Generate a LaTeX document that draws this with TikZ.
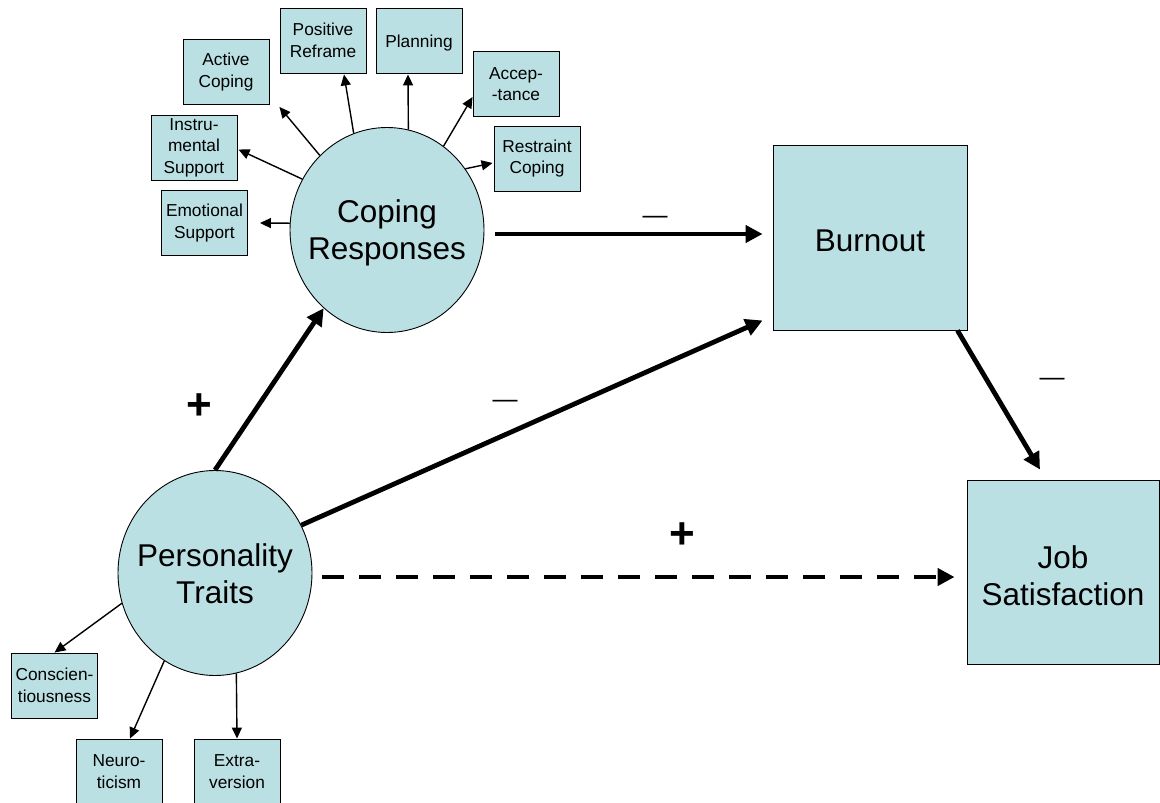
\documentclass[tikz,border=0pt]{standalone}
\usepackage{fontspec}
\setmainfont{Liberation Sans}
\usetikzlibrary{arrows.meta,shapes.geometric,calc}
\definecolor{boxfill}{RGB}{187,224,227}
\begin{document}
\begin{tikzpicture}[x=1pt,y=-1pt,
  smallbox/.style={draw=black,line width=0.9pt,fill=boxfill,minimum width=86pt,minimum height=65pt,inner sep=0pt,align=center,font=\fontsize{17.3}{21.5}\selectfont,execute at begin node={\rule{0pt}{18pt}}},
  bigbox/.style={draw=black,line width=0.9pt,fill=boxfill,inner sep=0pt},
  bigell/.style={draw=black,line width=0.9pt,fill=boxfill,ellipse,minimum width=194pt,minimum height=205pt,inner sep=0pt},
  bigtxt/.style={align=center,inner sep=0pt,font=\fontsize{31.5}{37}\selectfont},
  thinarr/.style={line width=1.4pt,-{Triangle[length=11pt,width=10pt]}},
  thickarr/.style={line width=4.8pt,-{Triangle[length=17pt,width=17pt]}},
  sign/.style={inner sep=0pt,font=\fontsize{44}{44}\bfseries\selectfont},
  minus/.style={inner sep=0pt,font=\fontsize{25}{25}\selectfont}]
\useasboundingbox (0,0) rectangle (1160,803);

% main constructs
\node[bigell] (cr) at (387,230) {};
\node[bigtxt] (crt) at (387,233) {Coping\\Responses};
\node[bigell] (pt) at (215,573) {};
\node[bigtxt] (ptt) at (215,573.7) {Personality\\Traits};
\node[bigbox,minimum width=194pt,minimum height=185pt] (bo) at (870,237.5) {};
\node[bigtxt] (bot) at (870,241) {Burnout};
\node[bigbox,minimum width=192pt,minimum height=184pt] (js) at (1063,572) {};
\node[bigtxt] (jst) at (1063,576) {Job\\Satisfaction};

% coping responses
\node[smallbox] (es) at (204.5,223) {Emotional\\Support};
\node[smallbox] (is) at (194,147.5) {Instru-\\mental\\Support};
\node[smallbox] (ac) at (226,72) {Active\\Coping};
\node[smallbox] (pr) at (323,40.5) {Positive\\Reframe};
\node[smallbox] (pl) at (419,40.5) {Planning};
\node[smallbox] (acc) at (516,84) {Accep-\\-tance};
\node[smallbox] (rc) at (537,158.5) {Restraint\\Coping};

% personality traits
\node[smallbox] (co) at (54.5,685.5) {Conscien-\\tiousness};
\node[smallbox] (ne) at (119,771.5) {Neuro-\\ticism};
\node[smallbox] (ex) at (237,771.5) {Extra-\\version};

% thin arrows
\draw[thinarr] (cr.176) -- ([shift={(12,0)}]es.east);
\draw[thinarr] (cr.149.5) -- ([shift={(1,2)}]is.east);
\draw[thinarr] (cr.132) -- ([shift={(10,2)}]ac.south east);
\draw[thinarr] (cr.109) -- ([shift={(21,1)}]pr.south);
\draw[thinarr] (cr.78.5) -- ([shift={(-11,1)}]pl.south);
\draw[thinarr] (cr.56) -- ([shift={(0,13)}]acc.west);
\draw[thinarr] (cr.38) -- ([shift={(-1,4.5)}]rc.west);
\draw[thinarr] (pt.198) -- (co.north);
\draw[thinarr] (pt.240) -- ([shift={(11,0)}]ne.north);
\draw[thinarr] (pt.282) -- (ex.north);

% thick arrows
\draw[thickarr] (pt.north) -- (cr.231);
\draw[thickarr] (pt.29) -- ([shift={(-10,-10)}]bo.south west);
\draw[thickarr] ([shift={(11,4)}]cr.east) -- ([shift={(-10,-3.5)}]bo.west);
\draw[thickarr] ([shift={(-10,0)}]bo.south east) -- ([shift={(-23,-10)}]js.north);
\draw[thickarr,dash pattern=on 22pt off 15pt] ([shift={(10,4)}]pt.east) -- ([shift={(-12,5)}]js.west);

% signs
\node[sign] (p1) at (199,407) {+};
\node[sign] (p2) at (682,536) {+};
\node[minus] (m1) at (655,220) {—};
\node[minus] (m2) at (505,404) {—};
\node[minus] (m3) at (1052,382) {—};
\end{tikzpicture}
\end{document}
